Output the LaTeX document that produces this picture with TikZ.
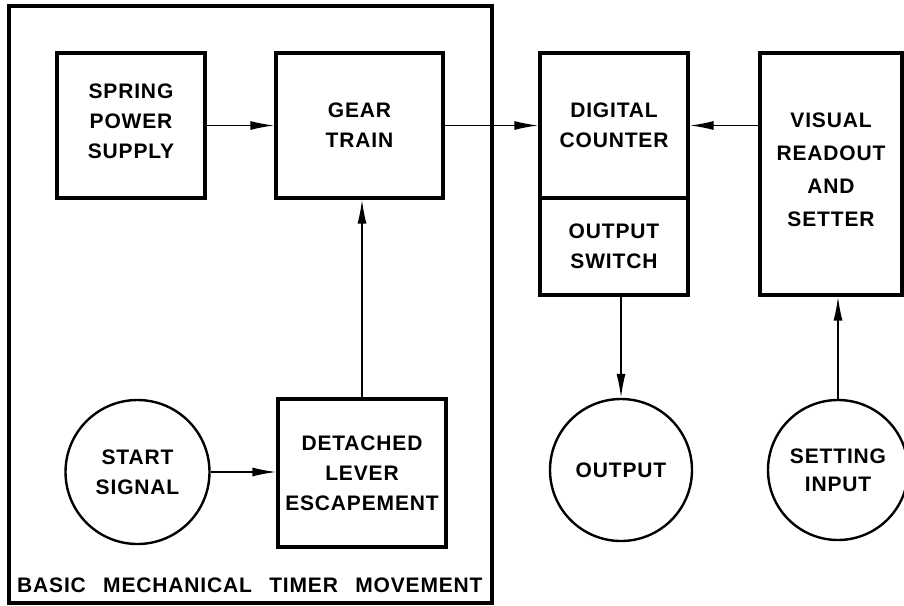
\documentclass[tikz,border=0pt]{standalone}
\usepackage{fontspec}
\setmainfont{Liberation Sans}[LetterSpace=4,WordSpace=2.6]
\usetikzlibrary{arrows.meta}
\begin{document}
\begin{tikzpicture}[x=1pt,y=-1pt,
  lbl/.style={font=\fontsize{21}{30}\selectfont\bfseries, align=center},
  blk/.style={draw, line width=3.2pt, rectangle, inner sep=0pt, lbl},
  rnd/.style={draw, line width=2.4pt, circle, inner sep=0pt, lbl},
  arr/.style={line width=1.6pt, -{Latex[length=24pt,width=9pt]}}]
\useasboundingbox (0,0) rectangle (904,605);
\node[draw, line width=3.2pt, minimum width=483pt, minimum height=597pt] (frame) at (250.5,304.5) {};
\node[blk, minimum width=148pt, minimum height=145pt] (spring) at (131,125.5) {SPRING\\POWER\\SUPPLY\\[-21pt]};
\node[blk, minimum width=167pt, minimum height=145pt] (gear) at (359.5,125.5) {GEAR\\TRAIN};
\node[blk, minimum width=168pt, minimum height=148pt] (det) at (362,473) {DETACHED\\LEVER\\ESCAPEMENT};
\node[rnd, minimum size=144pt] (start) at (137.5,472) {START\\SIGNAL};
\node[blk, minimum width=148pt, minimum height=145pt] (counter) at (614,125.5) {DIGITAL\\COUNTER};
\node[blk, minimum width=148pt, minimum height=97pt] (switch) at (614,246.5) {OUTPUT\\SWITCH};
\node[blk, minimum width=142pt, minimum height=242pt, font=\fontsize{21}{33}\selectfont\bfseries] (vis) at (831,174) {VISUAL\\READOUT\\AND\\SETTER\\[-25pt]};
\node[rnd, minimum size=142pt] (out) at (621,470) {OUTPUT};
\node[rnd, minimum size=140pt, font=\fontsize{21}{28}\selectfont\bfseries] (set) at (838,470) {SETTING\\INPUT};
\node[lbl, anchor=west, inner sep=0pt] (title) at (17,585) {BASIC MECHANICAL TIMER MOVEMENT};
\draw[arr] (spring.east) -- (gear.west);
\draw[arr] (gear.east) -- (counter.west);
\draw[arr] (vis.west |- counter.east) -- (counter.east);
\draw[arr] (det.north) -- (det.north |- gear.south);
\draw[arr] (start.east) -- (start.east -| det.west);
\draw[arr] (out.north |- switch.south) -- (out.north);
\draw[arr] (set.north) -- (set.north |- vis.south);
\end{tikzpicture}
\end{document}
